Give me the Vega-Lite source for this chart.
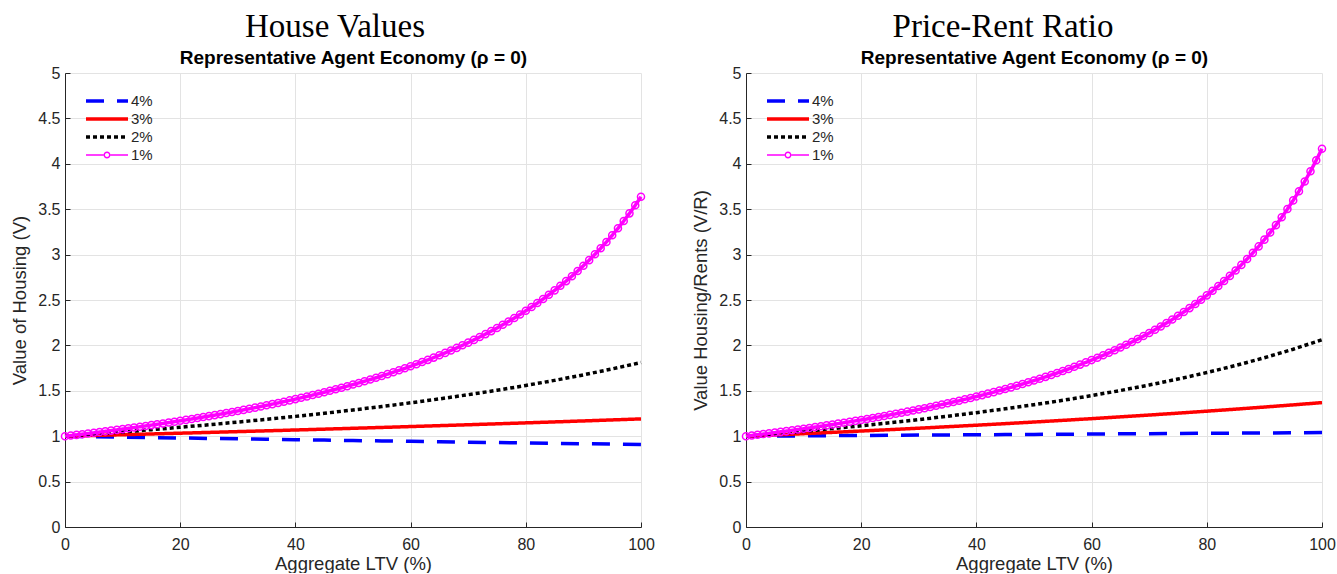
{
 "$schema": "https://vega.github.io/schema/vega-lite/v6.json",
 "background": "white",
 "padding": {"left": 10, "top": 11, "right": 0, "bottom": 0},
 "datasets": {
  "L": [
   {"r":"4%","x":0,"v":1},{"r":"4%","x":5,"v":0.9952},{"r":"4%","x":10,"v":0.9901},{"r":"4%","x":15,"v":0.9852},{"r":"4%","x":20,"v":0.9804},{"r":"4%","x":25,"v":0.9756},{"r":"4%","x":30,"v":0.9709},{"r":"4%","x":35,"v":0.9662},{"r":"4%","x":40,"v":0.9615},{"r":"4%","x":45,"v":0.9569},{"r":"4%","x":50,"v":0.9524},{"r":"4%","x":55,"v":0.9479},{"r":"4%","x":60,"v":0.9434},{"r":"4%","x":65,"v":0.939},{"r":"4%","x":70,"v":0.9346},{"r":"4%","x":75,"v":0.9302},{"r":"4%","x":80,"v":0.9259},{"r":"4%","x":85,"v":0.9217},{"r":"4%","x":90,"v":0.9174},{"r":"4%","x":95,"v":0.9132},{"r":"4%","x":100,"v":0.9091},
   {"r":"3%","x":0,"v":1},{"r":"3%","x":5,"v":1.0081},{"r":"3%","x":10,"v":1.0163},{"r":"3%","x":15,"v":1.0246},{"r":"3%","x":20,"v":1.0331},{"r":"3%","x":25,"v":1.0417},{"r":"3%","x":30,"v":1.0504},{"r":"3%","x":35,"v":1.0593},{"r":"3%","x":40,"v":1.0684},{"r":"3%","x":45,"v":1.0776},{"r":"3%","x":50,"v":1.087},{"r":"3%","x":55,"v":1.0965},{"r":"3%","x":60,"v":1.1062},{"r":"3%","x":65,"v":1.1161},{"r":"3%","x":70,"v":1.1261},{"r":"3%","x":75,"v":1.1364},{"r":"3%","x":80,"v":1.1468},{"r":"3%","x":85,"v":1.1574},{"r":"3%","x":90,"v":1.1682},{"r":"3%","x":95,"v":1.1792},{"r":"3%","x":100,"v":1.1905},
   {"r":"2%","x":0,"v":1},{"r":"2%","x":5,"v":1.0229},{"r":"2%","x":10,"v":1.0469},{"r":"2%","x":15,"v":1.072},{"r":"2%","x":20,"v":1.0984},{"r":"2%","x":25,"v":1.1261},{"r":"2%","x":30,"v":1.1553},{"r":"2%","x":35,"v":1.186},{"r":"2%","x":40,"v":1.2183},{"r":"2%","x":45,"v":1.2525},{"r":"2%","x":50,"v":1.2887},{"r":"2%","x":55,"v":1.327},{"r":"2%","x":60,"v":1.3676},{"r":"2%","x":65,"v":1.4108},{"r":"2%","x":70,"v":1.4569},{"r":"2%","x":75,"v":1.506},{"r":"2%","x":80,"v":1.5586},{"r":"2%","x":85,"v":1.615},{"r":"2%","x":90,"v":1.6756},{"r":"2%","x":95,"v":1.7409},{"r":"2%","x":100,"v":1.8116},
   {"r":"1%","x":0,"v":1},{"r":"1%","x":1,"v":1.0073},{"r":"1%","x":2,"v":1.0147},{"r":"1%","x":3,"v":1.0222},{"r":"1%","x":4,"v":1.0299},{"r":"1%","x":5,"v":1.0376},{"r":"1%","x":6,"v":1.0455},{"r":"1%","x":7,"v":1.0535},{"r":"1%","x":8,"v":1.0616},{"r":"1%","x":9,"v":1.0698},
   {"r":"1%","x":10,"v":1.0782},{"r":"1%","x":11,"v":1.0867},{"r":"1%","x":12,"v":1.0953},{"r":"1%","x":13,"v":1.1041},{"r":"1%","x":14,"v":1.113},{"r":"1%","x":15,"v":1.122},{"r":"1%","x":16,"v":1.1312},{"r":"1%","x":17,"v":1.1406},{"r":"1%","x":18,"v":1.1501},{"r":"1%","x":19,"v":1.1598},
   {"r":"1%","x":20,"v":1.1696},{"r":"1%","x":21,"v":1.1796},{"r":"1%","x":22,"v":1.1898},{"r":"1%","x":23,"v":1.2001},{"r":"1%","x":24,"v":1.2107},{"r":"1%","x":25,"v":1.2214},{"r":"1%","x":26,"v":1.2323},{"r":"1%","x":27,"v":1.2434},{"r":"1%","x":28,"v":1.2547},{"r":"1%","x":29,"v":1.2662},
   {"r":"1%","x":30,"v":1.278},{"r":"1%","x":31,"v":1.2899},{"r":"1%","x":32,"v":1.3021},{"r":"1%","x":33,"v":1.3145},{"r":"1%","x":34,"v":1.3271},{"r":"1%","x":35,"v":1.34},{"r":"1%","x":36,"v":1.3532},{"r":"1%","x":37,"v":1.3666},{"r":"1%","x":38,"v":1.3803},{"r":"1%","x":39,"v":1.3942},
   {"r":"1%","x":40,"v":1.4085},{"r":"1%","x":41,"v":1.423},{"r":"1%","x":42,"v":1.4378},{"r":"1%","x":43,"v":1.453},{"r":"1%","x":44,"v":1.4684},{"r":"1%","x":45,"v":1.4842},{"r":"1%","x":46,"v":1.5004},{"r":"1%","x":47,"v":1.5169},{"r":"1%","x":48,"v":1.5337},{"r":"1%","x":49,"v":1.551},
   {"r":"1%","x":50,"v":1.5686},{"r":"1%","x":51,"v":1.5867},{"r":"1%","x":52,"v":1.6051},{"r":"1%","x":53,"v":1.624},{"r":"1%","x":54,"v":1.6434},{"r":"1%","x":55,"v":1.6632},{"r":"1%","x":56,"v":1.6835},{"r":"1%","x":57,"v":1.7043},{"r":"1%","x":58,"v":1.7256},{"r":"1%","x":59,"v":1.7475},
   {"r":"1%","x":60,"v":1.7699},{"r":"1%","x":61,"v":1.7929},{"r":"1%","x":62,"v":1.8165},{"r":"1%","x":63,"v":1.8408},{"r":"1%","x":64,"v":1.8657},{"r":"1%","x":65,"v":1.8913},{"r":"1%","x":66,"v":1.9175},{"r":"1%","x":67,"v":1.9446},{"r":"1%","x":68,"v":1.9724},{"r":"1%","x":69,"v":2.001},
   {"r":"1%","x":70,"v":2.0305},{"r":"1%","x":71,"v":2.0608},{"r":"1%","x":72,"v":2.0921},{"r":"1%","x":73,"v":2.1243},{"r":"1%","x":74,"v":2.1575},{"r":"1%","x":75,"v":2.1918},{"r":"1%","x":76,"v":2.2272},{"r":"1%","x":77,"v":2.2637},{"r":"1%","x":78,"v":2.3015},{"r":"1%","x":79,"v":2.3406},
   {"r":"1%","x":80,"v":2.381},{"r":"1%","x":81,"v":2.4228},{"r":"1%","x":82,"v":2.4661},{"r":"1%","x":83,"v":2.511},{"r":"1%","x":84,"v":2.5575},{"r":"1%","x":85,"v":2.6059},{"r":"1%","x":86,"v":2.656},{"r":"1%","x":87,"v":2.7082},{"r":"1%","x":88,"v":2.7624},{"r":"1%","x":89,"v":2.8189},
   {"r":"1%","x":90,"v":2.8777},{"r":"1%","x":91,"v":2.939},{"r":"1%","x":92,"v":3.003},{"r":"1%","x":93,"v":3.0698},{"r":"1%","x":94,"v":3.1397},{"r":"1%","x":95,"v":3.2129},{"r":"1%","x":96,"v":3.2895},{"r":"1%","x":97,"v":3.3698},{"r":"1%","x":98,"v":3.4542},{"r":"1%","x":99,"v":3.543},{"r":"1%","x":100,"v":3.6364}
  ],
  "R": [
   {"r":"4%","x":0,"v":1},{"r":"4%","x":5,"v":1.002},{"r":"4%","x":10,"v":1.004},{"r":"4%","x":15,"v":1.006},{"r":"4%","x":20,"v":1.008},{"r":"4%","x":25,"v":1.01},{"r":"4%","x":30,"v":1.012},{"r":"4%","x":35,"v":1.014},{"r":"4%","x":40,"v":1.016},{"r":"4%","x":45,"v":1.018},{"r":"4%","x":50,"v":1.02},{"r":"4%","x":55,"v":1.022},{"r":"4%","x":60,"v":1.024},{"r":"4%","x":65,"v":1.026},{"r":"4%","x":70,"v":1.028},{"r":"4%","x":75,"v":1.03},{"r":"4%","x":80,"v":1.032},{"r":"4%","x":85,"v":1.034},{"r":"4%","x":90,"v":1.036},{"r":"4%","x":95,"v":1.038},{"r":"4%","x":100,"v":1.04},
   {"r":"3%","x":0,"v":1},{"r":"3%","x":5,"v":1.0137},{"r":"3%","x":10,"v":1.0277},{"r":"3%","x":15,"v":1.0422},{"r":"3%","x":20,"v":1.0571},{"r":"3%","x":25,"v":1.0724},{"r":"3%","x":30,"v":1.0881},{"r":"3%","x":35,"v":1.1044},{"r":"3%","x":40,"v":1.1211},{"r":"3%","x":45,"v":1.1383},{"r":"3%","x":50,"v":1.1561},{"r":"3%","x":55,"v":1.1744},{"r":"3%","x":60,"v":1.1933},{"r":"3%","x":65,"v":1.2129},{"r":"3%","x":70,"v":1.233},{"r":"3%","x":75,"v":1.2539},{"r":"3%","x":80,"v":1.2755},{"r":"3%","x":85,"v":1.2979},{"r":"3%","x":90,"v":1.321},{"r":"3%","x":95,"v":1.345},{"r":"3%","x":100,"v":1.3699},
   {"r":"2%","x":0,"v":1},{"r":"2%","x":5,"v":1.0264},{"r":"2%","x":10,"v":1.0543},{"r":"2%","x":15,"v":1.0837},{"r":"2%","x":20,"v":1.1148},{"r":"2%","x":25,"v":1.1478},{"r":"2%","x":30,"v":1.1827},{"r":"2%","x":35,"v":1.2199},{"r":"2%","x":40,"v":1.2594},{"r":"2%","x":45,"v":1.3017},{"r":"2%","x":50,"v":1.3468},{"r":"2%","x":55,"v":1.3952},{"r":"2%","x":60,"v":1.4472},{"r":"2%","x":65,"v":1.5032},{"r":"2%","x":70,"v":1.5637},{"r":"2%","x":75,"v":1.6293},{"r":"2%","x":80,"v":1.7007},{"r":"2%","x":85,"v":1.7786},{"r":"2%","x":90,"v":1.8639},{"r":"2%","x":95,"v":1.9579},{"r":"2%","x":100,"v":2.0619},
   {"r":"1%","x":0,"v":1},{"r":"1%","x":1,"v":1.0077},{"r":"1%","x":2,"v":1.0154},{"r":"1%","x":3,"v":1.0233},{"r":"1%","x":4,"v":1.0314},{"r":"1%","x":5,"v":1.0395},{"r":"1%","x":6,"v":1.0478},{"r":"1%","x":7,"v":1.0562},{"r":"1%","x":8,"v":1.0647},{"r":"1%","x":9,"v":1.0734},
   {"r":"1%","x":10,"v":1.0823},{"r":"1%","x":11,"v":1.0912},{"r":"1%","x":12,"v":1.1004},{"r":"1%","x":13,"v":1.1096},{"r":"1%","x":14,"v":1.1191},{"r":"1%","x":15,"v":1.1287},{"r":"1%","x":16,"v":1.1384},{"r":"1%","x":17,"v":1.1484},{"r":"1%","x":18,"v":1.1585},{"r":"1%","x":19,"v":1.1688},
   {"r":"1%","x":20,"v":1.1792},{"r":"1%","x":21,"v":1.1899},{"r":"1%","x":22,"v":1.2008},{"r":"1%","x":23,"v":1.2118},{"r":"1%","x":24,"v":1.2231},{"r":"1%","x":25,"v":1.2346},{"r":"1%","x":26,"v":1.2463},{"r":"1%","x":27,"v":1.2582},{"r":"1%","x":28,"v":1.2703},{"r":"1%","x":29,"v":1.2827},
   {"r":"1%","x":30,"v":1.2953},{"r":"1%","x":31,"v":1.3082},{"r":"1%","x":32,"v":1.3214},{"r":"1%","x":33,"v":1.3348},{"r":"1%","x":34,"v":1.3484},{"r":"1%","x":35,"v":1.3624},{"r":"1%","x":36,"v":1.3767},{"r":"1%","x":37,"v":1.3912},{"r":"1%","x":38,"v":1.4061},{"r":"1%","x":39,"v":1.4213},
   {"r":"1%","x":40,"v":1.4368},{"r":"1%","x":41,"v":1.4526},{"r":"1%","x":42,"v":1.4689},{"r":"1%","x":43,"v":1.4854},{"r":"1%","x":44,"v":1.5024},{"r":"1%","x":45,"v":1.5198},{"r":"1%","x":46,"v":1.5375},{"r":"1%","x":47,"v":1.5557},{"r":"1%","x":48,"v":1.5743},{"r":"1%","x":49,"v":1.5934},
   {"r":"1%","x":50,"v":1.6129},{"r":"1%","x":51,"v":1.6329},{"r":"1%","x":52,"v":1.6534},{"r":"1%","x":53,"v":1.6745},{"r":"1%","x":54,"v":1.6961},{"r":"1%","x":55,"v":1.7182},{"r":"1%","x":56,"v":1.7409},{"r":"1%","x":57,"v":1.7643},{"r":"1%","x":58,"v":1.7883},{"r":"1%","x":59,"v":1.8129},
   {"r":"1%","x":60,"v":1.8382},{"r":"1%","x":61,"v":1.8643},{"r":"1%","x":62,"v":1.8911},{"r":"1%","x":63,"v":1.9186},{"r":"1%","x":64,"v":1.947},{"r":"1%","x":65,"v":1.9763},{"r":"1%","x":66,"v":2.0064},{"r":"1%","x":67,"v":2.0375},{"r":"1%","x":68,"v":2.0695},{"r":"1%","x":69,"v":2.1026},
   {"r":"1%","x":70,"v":2.1368},{"r":"1%","x":71,"v":2.172},{"r":"1%","x":72,"v":2.2085},{"r":"1%","x":73,"v":2.2462},{"r":"1%","x":74,"v":2.2852},{"r":"1%","x":75,"v":2.3256},{"r":"1%","x":76,"v":2.3674},{"r":"1%","x":77,"v":2.4108},{"r":"1%","x":78,"v":2.4558},{"r":"1%","x":79,"v":2.5025},
   {"r":"1%","x":80,"v":2.551},{"r":"1%","x":81,"v":2.6015},{"r":"1%","x":82,"v":2.6539},{"r":"1%","x":83,"v":2.7086},{"r":"1%","x":84,"v":2.7655},{"r":"1%","x":85,"v":2.8249},{"r":"1%","x":86,"v":2.8868},{"r":"1%","x":87,"v":2.9516},{"r":"1%","x":88,"v":3.0193},{"r":"1%","x":89,"v":3.0902},
   {"r":"1%","x":90,"v":3.1646},{"r":"1%","x":91,"v":3.2425},{"r":"1%","x":92,"v":3.3245},{"r":"1%","x":93,"v":3.4106},{"r":"1%","x":94,"v":3.5014},{"r":"1%","x":95,"v":3.5971},{"r":"1%","x":96,"v":3.6982},{"r":"1%","x":97,"v":3.8052},{"r":"1%","x":98,"v":3.9185},{"r":"1%","x":99,"v":4.0388},{"r":"1%","x":100,"v":4.1667}
  ]
 },
 "spacing": 105,
 "bounds": "flush",
 "hconcat": [
  {
   "width": 576, "height": 454,
   "title": {"text": "House Values", "dx": -18},
   "data": {"name": "L"},
   "resolve": {"axis": {"x": "independent"}},
   "layer": [
    {
     "mark": {"type": "line"},
     "encoding": {
      "x": {"field": "x", "type": "quantitative", "scale": {"domain": [0, 100], "nice": false}, "axis": {"orient": "bottom", "title": "Aggregate LTV (%)", "values": [0, 20, 40, 60, 80, 100]}},
      "y": {"field": "v", "type": "quantitative", "scale": {"domain": [0, 5], "nice": false}, "axis": {"title": "Value of Housing (V)", "values": [0, 0.5, 1, 1.5, 2, 2.5, 3, 3.5, 4, 4.5, 5], "format": "~g"}},
      "color": {"field": "r", "type": "nominal", "title": null, "scale": {"domain": ["4%", "3%", "2%", "1%"], "range": ["#0000ff", "#ff0000", "#000000", "#ff00ff"]},
       "legend": {"orient": "top-left", "offset": 19, "rowPadding": 1, "labelOffset": 29, "encode": {"symbols": {"update": {"shape": {"signal": "datum.value === '1%' ? 'M-1,-0.11H1.5V0.11H-1ZM2.5,-0.11H5V0.11H2.5ZM1.5,0A0.5,0.5 0 1,1 2.5,0A0.5,0.5 0 1,1 1.5,0ZM1.71,0A0.29,0.29 0 1,0 2.29,0A0.29,0.29 0 1,0 1.71,0Z' : 'M-1,0H5'"}, "strokeOpacity": {"signal": "datum.value === '1%' ? 0 : 1"}, "fill": {"signal": "datum.value === '1%' ? '#ff00ff' : 'transparent'"}, "fillOpacity": {"value": 1}}}}}},
      "strokeDash": {"field": "r", "type": "nominal", "title": null, "scale": {"domain": ["4%", "3%", "2%", "1%"], "range": [[18, 13], [1, 0], [4, 3], [1, 0]]},
       "legend": {"orient": "top-left", "offset": 19, "rowPadding": 1, "labelOffset": 29, "encode": {"symbols": {"update": {"shape": {"signal": "datum.value === '1%' ? 'M-1,-0.11H1.5V0.11H-1ZM2.5,-0.11H5V0.11H2.5ZM1.5,0A0.5,0.5 0 1,1 2.5,0A0.5,0.5 0 1,1 1.5,0ZM1.71,0A0.29,0.29 0 1,0 2.29,0A0.29,0.29 0 1,0 1.71,0Z' : 'M-1,0H5'"}, "strokeOpacity": {"signal": "datum.value === '1%' ? 0 : 1"}, "fill": {"signal": "datum.value === '1%' ? '#ff00ff' : 'transparent'"}, "fillOpacity": {"value": 1}}}}}},
      "strokeWidth": {"field": "r", "type": "ordinal", "legend": null, "scale": {"domain": ["4%", "3%", "2%", "1%"], "range": [3.5, 3.5, 3.5, 1.5]}}
     }
    },
    {
     "transform": [{"filter": "datum.r === '1%'"}],
     "mark": {"type": "point", "shape": "circle", "filled": false, "color": "#ff00ff", "size": 50, "strokeWidth": 1.5, "opacity": 1},
     "encoding": {
      "x": {"field": "x", "type": "quantitative", "axis": {"orient": "top", "title": "Representative Agent Economy (ρ = 0)", "labels": false, "ticks": false, "domain": false, "grid": false, "titleFont": "Liberation Sans", "titleFontSize": 19, "titleFontWeight": "bold", "titleColor": "#000000", "titlePadding": 6}},
      "y": {"field": "v", "type": "quantitative"}
     }
    }
   ]
  },
  {
   "width": 576, "height": 454,
   "title": {"text": "Price-Rent Ratio", "dx": -31},
   "data": {"name": "R"},
   "resolve": {"axis": {"x": "independent"}},
   "layer": [
    {
     "mark": {"type": "line"},
     "encoding": {
      "x": {"field": "x", "type": "quantitative", "scale": {"domain": [0, 100], "nice": false}, "axis": {"orient": "bottom", "title": "Aggregate LTV (%)", "values": [0, 20, 40, 60, 80, 100]}},
      "y": {"field": "v", "type": "quantitative", "scale": {"domain": [0, 5], "nice": false}, "axis": {"title": "Value Housing/Rents (V/R)", "values": [0, 0.5, 1, 1.5, 2, 2.5, 3, 3.5, 4, 4.5, 5], "format": "~g"}},
      "color": {"field": "r", "type": "nominal", "title": null, "scale": {"domain": ["4%", "3%", "2%", "1%"], "range": ["#0000ff", "#ff0000", "#000000", "#ff00ff"]},
       "legend": {"orient": "top-left", "offset": 19, "rowPadding": 1, "labelOffset": 29, "encode": {"symbols": {"update": {"shape": {"signal": "datum.value === '1%' ? 'M-1,-0.11H1.5V0.11H-1ZM2.5,-0.11H5V0.11H2.5ZM1.5,0A0.5,0.5 0 1,1 2.5,0A0.5,0.5 0 1,1 1.5,0ZM1.71,0A0.29,0.29 0 1,0 2.29,0A0.29,0.29 0 1,0 1.71,0Z' : 'M-1,0H5'"}, "strokeOpacity": {"signal": "datum.value === '1%' ? 0 : 1"}, "fill": {"signal": "datum.value === '1%' ? '#ff00ff' : 'transparent'"}, "fillOpacity": {"value": 1}}}}}},
      "strokeDash": {"field": "r", "type": "nominal", "title": null, "scale": {"domain": ["4%", "3%", "2%", "1%"], "range": [[18, 13], [1, 0], [4, 3], [1, 0]]},
       "legend": {"orient": "top-left", "offset": 19, "rowPadding": 1, "labelOffset": 29, "encode": {"symbols": {"update": {"shape": {"signal": "datum.value === '1%' ? 'M-1,-0.11H1.5V0.11H-1ZM2.5,-0.11H5V0.11H2.5ZM1.5,0A0.5,0.5 0 1,1 2.5,0A0.5,0.5 0 1,1 1.5,0ZM1.71,0A0.29,0.29 0 1,0 2.29,0A0.29,0.29 0 1,0 1.71,0Z' : 'M-1,0H5'"}, "strokeOpacity": {"signal": "datum.value === '1%' ? 0 : 1"}, "fill": {"signal": "datum.value === '1%' ? '#ff00ff' : 'transparent'"}, "fillOpacity": {"value": 1}}}}}},
      "strokeWidth": {"field": "r", "type": "ordinal", "legend": null, "scale": {"domain": ["4%", "3%", "2%", "1%"], "range": [3.5, 3.5, 3.5, 1.5]}}
     }
    },
    {
     "transform": [{"filter": "datum.r === '1%'"}],
     "mark": {"type": "point", "shape": "circle", "filled": false, "color": "#ff00ff", "size": 50, "strokeWidth": 1.5, "opacity": 1},
     "encoding": {
      "x": {"field": "x", "type": "quantitative", "axis": {"orient": "top", "title": "Representative Agent Economy (ρ = 0)", "labels": false, "ticks": false, "domain": false, "grid": false, "titleFont": "Liberation Sans", "titleFontSize": 19, "titleFontWeight": "bold", "titleColor": "#000000", "titlePadding": 6}},
      "y": {"field": "v", "type": "quantitative"}
     }
    }
   ]
  }
 ],
 "resolve": {
  "scale": {"x": "independent", "y": "independent", "color": "independent", "strokeDash": "independent", "strokeWidth": "independent"},
  "legend": {"color": "independent", "strokeDash": "independent"}
 },
 "config": {
  "view": {"stroke": null},
  "font": "Liberation Sans",
  "title": {"font": "Liberation Serif", "fontSize": 33, "fontWeight": "normal", "color": "#000000", "offset": 4, "anchor": "middle"},
  "axis": {"labelFont": "Liberation Sans", "labelFontSize": 16, "labelColor": "#262626", "titleFont": "Liberation Sans", "titleFontSize": 18.5, "titleFontWeight": "normal", "titleColor": "#262626", "domainColor": "#262626", "domainWidth": 1, "tickColor": "#262626", "tickSize": -5, "gridColor": "#e3e3e3", "gridWidth": 1, "minExtent": 0},
  "axisX": {"labelPadding": 14, "titlePadding": 2, "labelFlush": false},
  "axisY": {"labelPadding": 10, "titlePadding": 8},
  "legend": {
   "padding": 0,
   "symbolSize": 196, "labelFont": "Liberation Sans", "labelFontSize": 15, "labelColor": "#262626"
  }
 }
}
